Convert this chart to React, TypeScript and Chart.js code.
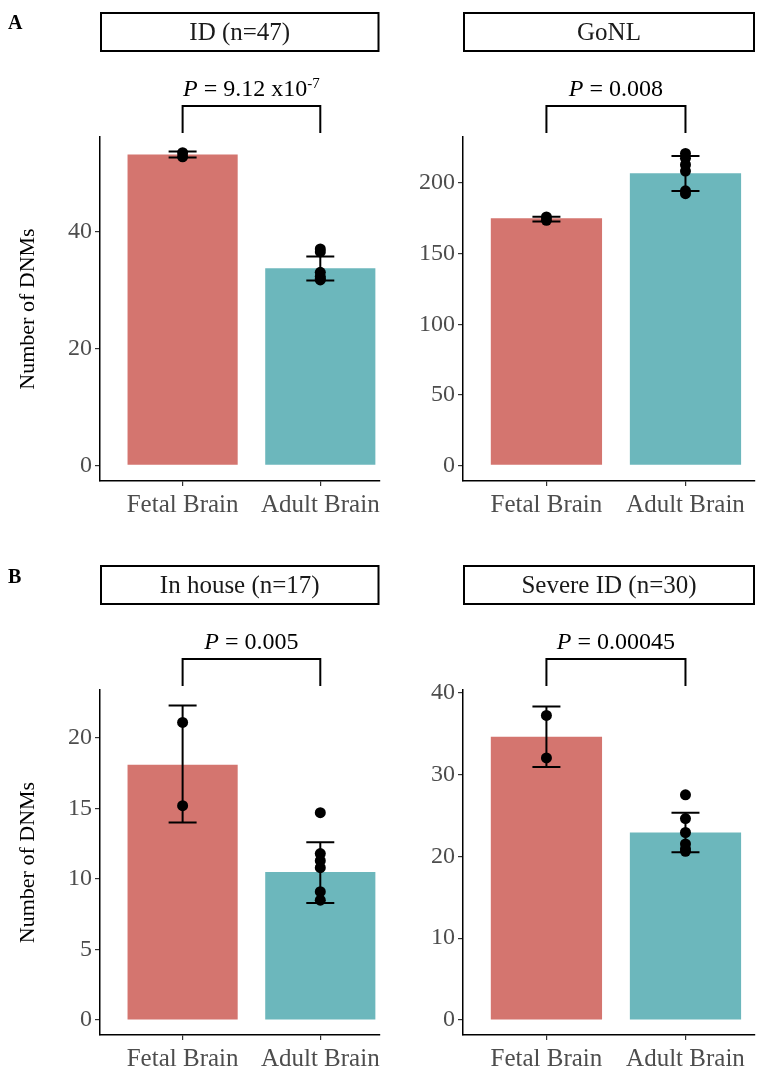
import React, { useEffect, useRef } from 'react';
import { Chart, registerables } from 'chart.js';

Chart.register(...registerables);

const FONT = '"Liberation Serif", "Times New Roman", serif';

const categories = ['Fetal Brain', 'Adult Brain'];
const barColors = ['#d4756f', '#6cb7bc'];

// Panel A left: ID (n=47)
const idMeans = [53.3, 33.8];
const idLow = [52.8, 31.7];
const idHigh = [53.8, 35.8];
const idFetalDots = [52.9, 53.6];
const idAdultDots = [37.1, 36.6, 33.1, 32.4, 32.0, 31.8];
const idTicks = [0, 20, 40];

// Panel A right: GoNL
const gonlMeans = [175, 207];
const gonlLow = [172.8, 194.3];
const gonlHigh = [176.2, 219.1];
const gonlFetalDots = [173.6, 176.0];
const gonlAdultDots = [221, 217.5, 213, 208.5, 194.5, 192.5];
const gonlTicks = [0, 50, 100, 150, 200];

// Panel B left: In house (n=17)
const inhouseMeans = [18.1, 10.5];
const inhouseLow = [14.0, 8.3];
const inhouseHigh = [22.3, 12.6];
const inhouseFetalDots = [21.1, 15.2];
const inhouseAdultDots = [14.7, 11.8, 11.3, 10.8, 9.1, 8.5];
const inhouseTicks = [0, 5, 10, 15, 20];

// Panel B right: Severe ID (n=30)
const severeMeans = [34.6, 22.9];
const severeLow = [30.9, 20.5];
const severeHigh = [38.3, 25.3];
const severeFetalDots = [37.2, 32.0];
const severeAdultDots = [27.5, 24.6, 22.9, 21.5, 20.9, 20.6];
const severeTicks = [0, 10, 20, 30, 40];

type PanelProps = {
  title: string;
  pMain: string;
  pExp?: string;
  means: number[];
  low: number[];
  high: number[];
  fetalDots: number[];
  adultDots: number[];
  ticks: number[];
  yMin: number;
  yMax: number;
  xMax: number;
  showYTitle: boolean;
  width: number;
  height: number;
  yWidth: number;
  xHeight: number;
  padTop: number;
  padRight: number;
  left: number;
  top: number;
};

function Panel(props: PanelProps) {
  const ref = useRef<HTMLCanvasElement | null>(null);
  useEffect(() => {
    const canvas = ref.current;
    if (!canvas) return;
    const {
      title, pMain, pExp, means, low, high, fetalDots, adultDots, ticks,
      yMin, yMax, xMax, showYTitle, yWidth, xHeight, padTop, padRight,
    } = props;

    const decor = {
      id: 'decor',
      afterDatasetDraw(chart: any, args: any) {
        if (args.meta.type !== 'bar') return;
        const ctx = chart.ctx;
        const xs = chart.scales.x;
        const ys = chart.scales.y;
        ctx.save();
        ctx.strokeStyle = '#000';
        ctx.lineWidth = 2;
        for (let i = 0; i < means.length; i++) {
          const px = xs.getPixelForValue(i + 1);
          const pLo = ys.getPixelForValue(low[i]);
          const pHi = ys.getPixelForValue(high[i]);
          ctx.beginPath();
          ctx.moveTo(px, pLo);
          ctx.lineTo(px, pHi);
          ctx.moveTo(px - 14, pLo);
          ctx.lineTo(px + 14, pLo);
          ctx.moveTo(px - 14, pHi);
          ctx.lineTo(px + 14, pHi);
          ctx.stroke();
        }
        ctx.restore();
      },
      afterDraw(chart: any) {
        const ctx = chart.ctx;
        const area = chart.chartArea;
        const xs = chart.scales.x;
        ctx.save();
        // strip box
        const boxTop = area.top - 124;
        const boxH = 38;
        ctx.strokeStyle = '#000';
        ctx.lineWidth = 2;
        ctx.strokeRect(area.left + 1, boxTop, area.right - area.left - 2, boxH);
        ctx.fillStyle = '#1a1a1a';
        ctx.font = `25px ${FONT}`;
        ctx.textAlign = 'center';
        ctx.textBaseline = 'middle';
        ctx.fillText(title, (area.left + area.right) / 2, boxTop + boxH / 2 + 1);

        // bracket
        const x1 = xs.getPixelForValue(1);
        const x2 = xs.getPixelForValue(2);
        const by = area.top - 31;
        const tipY = area.top - 4;
        ctx.lineWidth = 2;
        ctx.beginPath();
        ctx.moveTo(x1, tipY);
        ctx.lineTo(x1, by);
        ctx.lineTo(x2, by);
        ctx.lineTo(x2, tipY);
        ctx.stroke();

        // p text
        const baseY = area.top - 41;
        ctx.textAlign = 'left';
        ctx.textBaseline = 'alphabetic';
        ctx.fillStyle = '#000';
        const italicFont = `italic 24px ${FONT}`;
        const normalFont = `24px ${FONT}`;
        const supFont = `15px ${FONT}`;
        ctx.font = italicFont;
        const wP = ctx.measureText('P').width;
        ctx.font = normalFont;
        const rest = ' = ' + pMain;
        const wRest = ctx.measureText(rest).width;
        ctx.font = supFont;
        const wSup = pExp ? ctx.measureText(pExp).width : 0;
        const total = wP + wRest + wSup;
        let sx = (x1 + x2) / 2 - total / 2;
        ctx.font = italicFont;
        ctx.fillText('P', sx, baseY);
        sx += wP;
        ctx.font = normalFont;
        ctx.fillText(rest, sx, baseY);
        sx += wRest;
        if (pExp) {
          ctx.font = supFont;
          ctx.fillText(pExp, sx, baseY - 8);
        }
        ctx.restore();
      },
    };

    const dots = [
      ...fetalDots.map((v) => ({ x: 1, y: v })),
      ...adultDots.map((v) => ({ x: 2, y: v })),
    ];

    const chart = new Chart(canvas, {
      type: 'bar',
      data: {
        datasets: [
          {
            type: 'bar',
            data: means.map((v, i) => ({ x: i + 1, y: v })),
            backgroundColor: barColors,
            borderWidth: 0,
            barPercentage: 1,
            categoryPercentage: 0.8,
            order: 2,
          } as any,
          {
            type: 'scatter',
            data: dots,
            backgroundColor: '#000',
            borderWidth: 0,
            pointRadius: 5.5,
            showLine: false,
            order: 1,
          } as any,
        ],
      },
      options: {
        animation: false,
        responsive: false,
        devicePixelRatio: 1,
        layout: { padding: { top: padTop, right: padRight, bottom: 0, left: 0 } },
        plugins: { legend: { display: false }, tooltip: { enabled: false } },
        scales: {
          x: {
            type: 'linear',
            min: 0.4,
            max: xMax,
            offset: false,
            afterBuildTicks: (s: any) => {
              s.ticks = [{ value: 1 }, { value: 2 }];
            },
            afterFit: (s: any) => {
              s.height = xHeight;
            },
            ticks: {
              callback: (v: any) => categories[Number(v) - 1] ?? '',
              font: { family: FONT, size: 25 },
              color: '#4d4d4d',
              padding: 4,
              maxRotation: 0,
              autoSkip: false,
            },
            grid: {
              display: true,
              offset: false,
              drawOnChartArea: false,
              drawTicks: true,
              tickLength: 5,
              color: '#333',
              lineWidth: 1.2,
            },
            border: { display: true, color: '#000', width: 1.5 },
          },
          y: {
            type: 'linear',
            min: yMin,
            max: yMax,
            afterBuildTicks: (s: any) => {
              s.ticks = ticks.map((t) => ({ value: t }));
            },
            afterFit: (s: any) => {
              s.width = yWidth;
            },
            ticks: {
              font: { family: FONT, size: 24 },
              color: '#4d4d4d',
              padding: 3,
            },
            grid: {
              display: true,
              drawOnChartArea: false,
              drawTicks: true,
              tickLength: 5,
              color: '#333',
              lineWidth: 1.2,
            },
            border: { display: true, color: '#000', width: 1.5 },
            title: {
              display: showYTitle,
              text: 'Number of DNMs',
              font: { family: FONT, size: 22 },
              color: '#000',
              padding: { top: 15, bottom: 0 },
            },
          },
        },
      },
      plugins: [decor],
    } as any);
    return () => chart.destroy();
  }, []);

  return (
    <canvas
      ref={ref}
      width={props.width}
      height={props.height}
      style={{ position: 'absolute', left: props.left, top: props.top, width: props.width, height: props.height }}
    />
  );
}

export default function App() {
  const labelStyle: React.CSSProperties = {
    position: 'absolute',
    left: 8,
    fontFamily: FONT,
    fontWeight: 'bold',
    fontSize: 20,
    color: '#000',
    lineHeight: '20px',
  };
  return (
    <div style={{ position: 'absolute', left: 0, top: 0, width: 771, height: 1067, background: '#fff', overflow: 'hidden' }}>
      <Panel
        title="ID (n=47)" pMain="9.12 x10" pExp="-7"
        means={idMeans} low={idLow} high={idHigh} fetalDots={idFetalDots} adultDots={idAdultDots}
        ticks={idTicks} yMin={-2.68} yMax={56.3} xMax={2.43} showYTitle={true}
        width={385} height={540} yWidth={100} xHeight={59} padTop={137} padRight={4} left={0} top={0}
      />
      <Panel
        title="GoNL" pMain="0.008"
        means={gonlMeans} low={gonlLow} high={gonlHigh} fetalDots={gonlFetalDots} adultDots={gonlAdultDots}
        ticks={gonlTicks} yMin={-11.0} yMax={232.6} xMax={2.5} showYTitle={false}
        width={386} height={540} yWidth={78} xHeight={59} padTop={137} padRight={16} left={385} top={0}
      />
      <Panel
        title="In house (n=17)" pMain="0.005"
        means={inhouseMeans} low={inhouseLow} high={inhouseHigh} fetalDots={inhouseFetalDots} adultDots={inhouseAdultDots}
        ticks={inhouseTicks} yMin={-1.06} yMax={23.4} xMax={2.43} showYTitle={true}
        width={385} height={522} yWidth={100} xHeight={32} padTop={145} padRight={4} left={0} top={545}
      />
      <Panel
        title="Severe ID (n=30)" pMain="0.00045"
        means={severeMeans} low={severeLow} high={severeHigh} fetalDots={severeFetalDots} adultDots={severeAdultDots}
        ticks={severeTicks} yMin={-1.83} yMax={40.3} xMax={2.5} showYTitle={false}
        width={386} height={522} yWidth={78} xHeight={32} padTop={145} padRight={16} left={385} top={545}
      />
      <div style={{ ...labelStyle, top: 12 }}>A</div>
      <div style={{ ...labelStyle, top: 566 }}>B</div>
    </div>
  );
}
